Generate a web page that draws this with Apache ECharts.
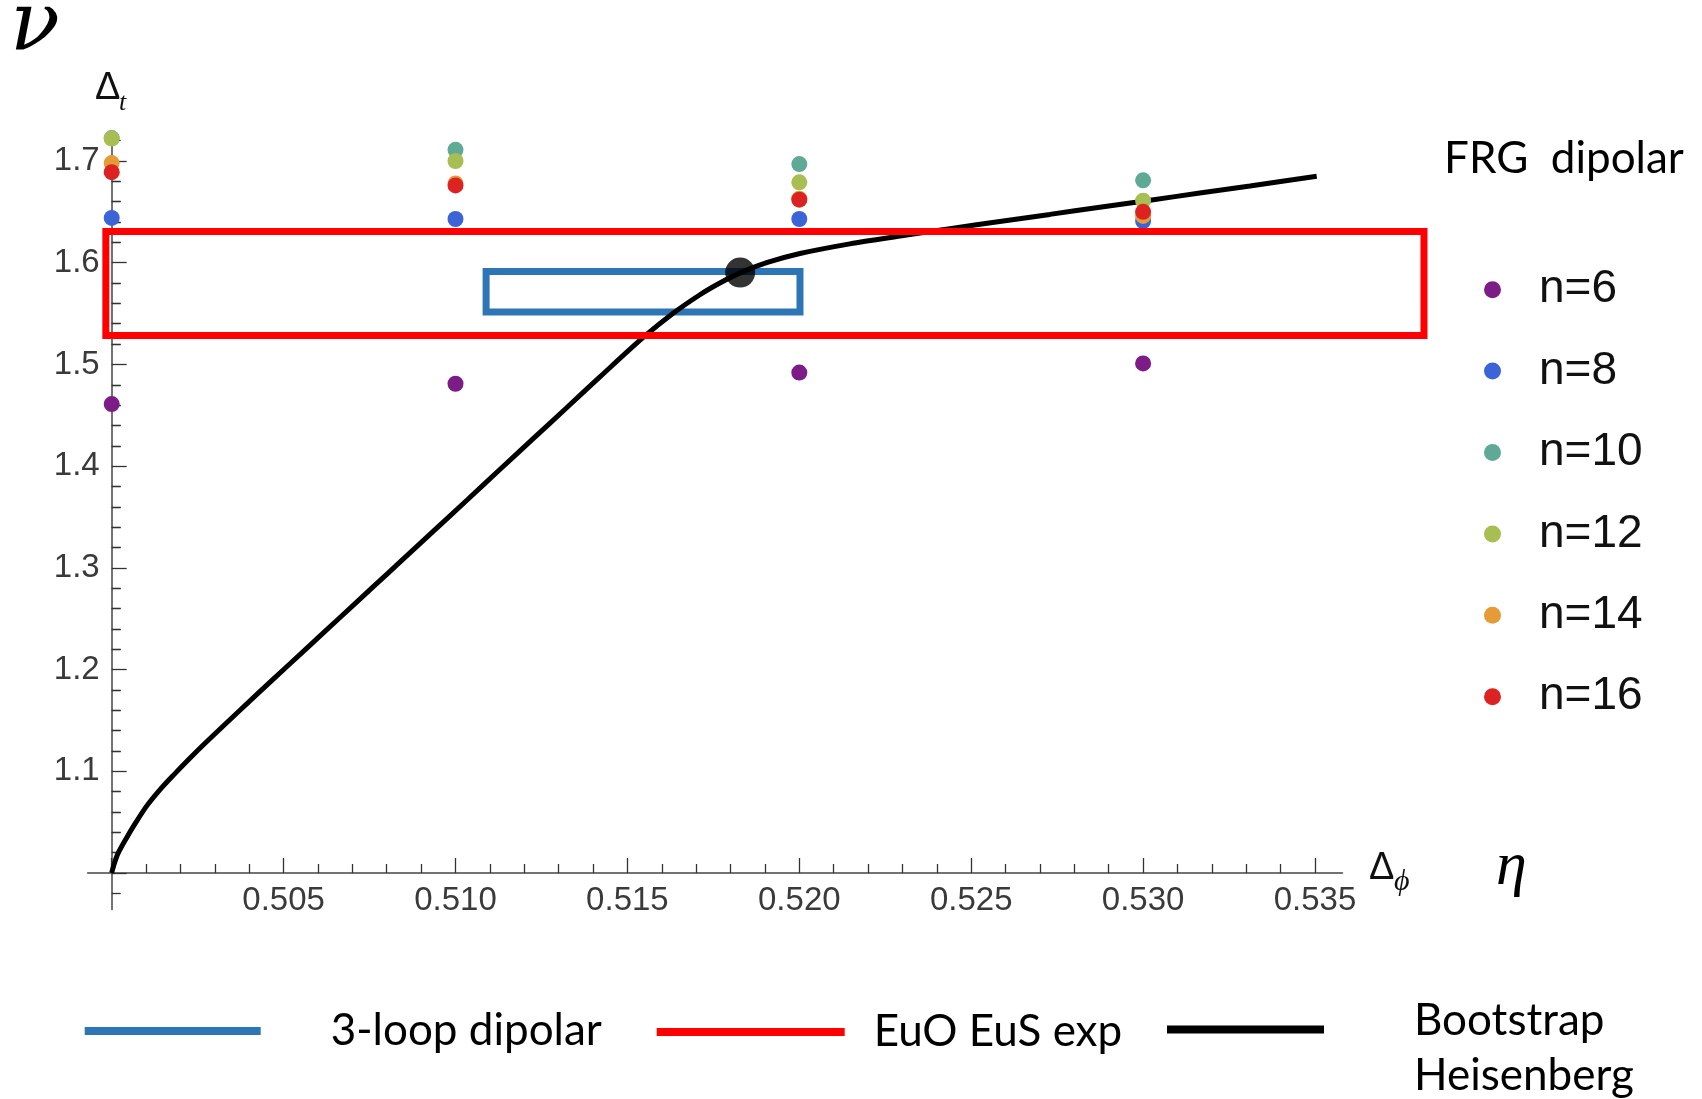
<!DOCTYPE html>
<html><head><meta charset="utf-8">
<script src="https://cdn.jsdelivr.net/npm/echarts@6/dist/echarts.min.js"></script>
<style>html,body{margin:0;padding:0;background:#fff}#c{width:1702px;height:1099px}</style>
</head><body><div id="c"></div>
<script>
// ---- data ----
const frgX = [0.500, 0.510, 0.520, 0.530];
const n6  = [1.461, 1.481, 1.492, 1.501];
const n8  = [1.644, 1.643, 1.643, 1.641];
const n10 = [1.7225, 1.711, 1.697, 1.681];
const n12 = [1.722, 1.700, 1.679, 1.661];
const n14 = [1.698, 1.678, 1.663, 1.646];
const n16 = [1.689, 1.676, 1.662, 1.650];
const frgNames = ['n=6', 'n=8', 'n=10', 'n=12', 'n=14', 'n=16'];

const bsX = [0.5000,0.50007,0.50018,0.50044,0.50068,0.50102,0.50140,0.50179,0.50228,0.50276,0.50373,0.50470,0.50567,0.50664,0.50761,0.50839,0.50935,0.51033,0.51129,0.51226,0.51321,0.51420,0.51546,0.51634,0.51711,0.51769,0.51828,0.51905,0.52002,0.52147,0.52293,0.52438,0.52583,0.52729,0.52874,0.53020,0.53165,0.53311,0.53505];
const bsY = [1.000,1.0085,1.0190,1.0350,1.0485,1.0660,1.0818,1.0960,1.1130,1.1290,1.1600,1.1906,1.2209,1.2512,1.2815,1.3058,1.3358,1.3665,1.3967,1.4270,1.4567,1.4877,1.5265,1.5505,1.5685,1.5800,1.5900,1.6000,1.6090,1.6185,1.6262,1.6335,1.6405,1.6475,1.6545,1.6615,1.6685,1.6755,1.6850];
const bootPoint = [0.51828, 1.5903];

const loopX = [0.51089, 0.52002];
const loopY = [1.5516, 1.5913];
const expX = [0.49983, 0.53817];
const expY = [1.5285, 1.6306];

const xTickMin = 0.500, xTickMax = 0.535, xTickStep = 0.005;
const yTickMin = 1.0, yTickMax = 1.7, yTickStep = 0.1;
const yAxisExt = [0.964, 1.7288];
const xAxisExt = [0.4993, 0.5358];

// ---- styles ----
const frgColors = ['#7b1c87', '#3c64d6', '#5fa997', '#a8bd52', '#e59b37', '#dd2222'];
const frgVals = [n6, n8, n10, n12, n14, n16];

const chart = echarts.init(document.getElementById('c'), null, {renderer: 'canvas'});

const axisColor = '#444';
const labelFont = 'Liberation Sans';

function rectSeries(name, xr, yr, color, z) {
  return {
    type: 'custom', name: name, xAxisIndex: 0, yAxisIndex: 0, clip: false, z: z,
    silent: true, animation: false,
    itemStyle: {color: color},
    encode: {x: [0, 1], y: [2, 3]},
    data: [[xr[0], xr[1], yr[0], yr[1]]],
    renderItem: function (params, api) {
      const p0 = api.coord([api.value(0), api.value(2)]);
      const p1 = api.coord([api.value(1), api.value(3)]);
      return {
        type: 'rect',
        shape: {x: Math.min(p0[0], p1[0]), y: Math.min(p0[1], p1[1]),
                width: Math.abs(p1[0] - p0[0]), height: Math.abs(p1[1] - p0[1])},
        style: {fill: 'none', stroke: color, lineWidth: 7, lineJoin: 'miter'}
      };
    }
  };
}

const series = [];
series.push(rectSeries('3-loop dipolar', loopX, loopY, '#2e75b6', 2));
series.push({
  type: 'line', name: 'Bootstrap Heisenberg', xAxisIndex: 0, yAxisIndex: 0,
  data: bsX.map((x, i) => [x, bsY[i]]), showSymbol: false, symbol: 'none', clip: false, z: 3,
  smooth: 0.3,
  lineStyle: {color: '#000', width: 5}, itemStyle: {color: '#000'}, silent: true, animation: false
});
series.push({
  type: 'scatter', name: 'bootstrap point', xAxisIndex: 0, yAxisIndex: 0,
  data: [bootPoint], symbolSize: 30, clip: false, z: 4,
  itemStyle: {color: '#000'}, silent: true, animation: false
});
frgVals.forEach((vals, k) => {
  series.push({
    type: 'scatter', name: frgNames[k], xAxisIndex: 0, yAxisIndex: 0,
    data: frgX.map((x, i) => [x, vals[i]]).filter(d => d[1] != null),
    symbolSize: 16, clip: false, z: 5,
    itemStyle: {color: frgColors[k], opacity: 1}, silent: true, animation: false
  });
});
series.push(rectSeries('EuO EuS exp', expX, expY, '#ff0000', 6));

const gLeft = 111.7, gRight = 387.0, gTop = 161, gBottom = 226;
const pxPerX = (1702 - gRight - gLeft) / (xTickMax - xTickMin);
const pxPerY = (1099 - gBottom - gTop) / (yTickMax - yTickMin);

function txt(x, y, text, size, family, style, color) {
  return {type: 'text', x: x, y: y, silent: true,
    style: {text: text, fontSize: size, fontFamily: family, fontStyle: style,
            fill: color, verticalAlign: 'middle', align: 'left'}};
}

const option = {
  backgroundColor: '#fff',
  animation: false,
  grid: [
    {left: gLeft, right: gRight, top: gTop, bottom: gBottom, containLabel: false},
    {left: gLeft, right: gRight,
     top: gTop - (yAxisExt[1] - yTickMax) * pxPerY,
     bottom: gBottom - (yTickMin - yAxisExt[0]) * pxPerY, containLabel: false},
    {left: gLeft - (xTickMin - xAxisExt[0]) * pxPerX,
     right: gRight - (xAxisExt[1] - xTickMax) * pxPerX,
     top: gTop, bottom: gBottom, containLabel: false}
  ],
  xAxis: [
    {type: 'value', gridIndex: 0, min: xTickMin, max: xTickMax, interval: xTickStep,
     axisLine: {show: false, onZero: false},
     axisTick: {show: true, inside: true, length: 15, lineStyle: {color: '#333', width: 1.3}},
     minorTick: {show: true, splitNumber: 5, length: 9, lineStyle: {color: '#333', width: 1.3}},
     splitLine: {show: false}, minorSplitLine: {show: false},
     axisLabel: {showMinLabel: false, margin: 11, fontFamily: labelFont, fontSize: 33, color: '#3a3a3a',
                 formatter: v => v.toFixed(3)}},
    {type: 'value', gridIndex: 1, min: xTickMin, max: xTickMax, show: false},
    {type: 'value', gridIndex: 2, min: xAxisExt[0], max: xAxisExt[1],
     axisLine: {show: true, onZero: false, lineStyle: {color: axisColor, width: 1.5}},
     axisTick: {show: false}, minorTick: {show: false}, axisLabel: {show: false},
     splitLine: {show: false}}
  ],
  yAxis: [
    {type: 'value', gridIndex: 0, min: yTickMin, max: yTickMax, interval: yTickStep,
     axisLine: {show: false, onZero: false},
     axisTick: {show: true, inside: true, length: 15, lineStyle: {color: '#333', width: 1.3}},
     minorTick: {show: true, splitNumber: 5, length: 9, lineStyle: {color: '#333', width: 1.3}},
     splitLine: {show: false}, minorSplitLine: {show: false},
     axisLabel: {showMinLabel: false, margin: 12, fontFamily: labelFont, fontSize: 33, color: '#3a3a3a',
                 formatter: v => v.toFixed(1)}},
    {type: 'value', gridIndex: 1, min: yAxisExt[0], max: yAxisExt[1], splitNumber: 8,
     axisLine: {show: true, onZero: false, lineStyle: {color: axisColor, width: 1.5}},
     axisTick: {show: false, inside: true},
     minorTick: {show: true, splitNumber: 5, length: 9, lineStyle: {color: '#333', width: 1.3}},
     axisLabel: {show: false}, splitLine: {show: false}},
    {type: 'value', gridIndex: 2, min: yTickMin, max: yTickMax, show: false}
  ],
  title: {
    text: 'FRG  dipolar', left: 1444, top: 137, padding: 0,
    textStyle: {fontFamily: 'Lato', fontSize: 44, fontWeight: 'normal', color: '#000'}
  },
  legend: [
    {data: frgNames, orient: 'vertical', left: 1484, top: 264.7, padding: 0,
     itemWidth: 17, itemHeight: 17, icon: 'circle', itemGap: 31.4, selectedMode: false,
     textStyle: {fontFamily: labelFont, fontSize: 46, lineHeight: 50, color: '#111', padding: [0, 0, 0, 33]}},
    {data: ['3-loop dipolar'], left: 84.7, top: 1003.5, padding: 0, icon: 'rect',
     itemWidth: 176, itemHeight: 8, selectedMode: false, itemStyle: {borderWidth: 0},
     textStyle: {fontFamily: 'Lato', fontSize: 44, lineHeight: 55, color: '#000', padding: [0, 0, 0, 65]}},
    {data: ['EuO EuS exp'], left: 656.7, top: 1004.5, padding: 0, icon: 'rect',
     itemWidth: 188, itemHeight: 8, selectedMode: false, itemStyle: {borderWidth: 0},
     textStyle: {fontFamily: 'Lato', fontSize: 44, lineHeight: 55, color: '#000', padding: [0, 0, 0, 24]}},
    {data: ['Bootstrap Heisenberg'], left: 1167, top: 969.5, padding: 0, icon: 'rect',
     itemWidth: 157, itemHeight: 8, selectedMode: false, itemStyle: {borderWidth: 0},
     formatter: () => '{s| }\n{a|Bootstrap}\n{a|Heisenberg}',
     textStyle: {fontFamily: 'Lato', fontSize: 44, color: '#000', padding: [0, 0, 0, 85],
       rich: {
         s: {fontFamily: 'Lato', fontSize: 10, lineHeight: 37},
         a: {fontFamily: 'Lato', fontSize: 44, lineHeight: 55, color: '#000'}
       }}}
  ],
  graphic: [
    txt(10, 29, 'ν', 82, 'DejaVu Serif', 'italic', '#000'),
    txt(95, 89, 'Δ', 38, 'Liberation Sans', 'normal', '#111'),
    txt(119, 103, 't', 26, 'Liberation Serif', 'italic', '#111'),
    txt(1369, 869, 'Δ', 38, 'Liberation Sans', 'normal', '#111'),
    txt(1394, 882, 'ϕ', 30, 'Liberation Serif', 'italic', '#111'),
    txt(1496, 868, 'η', 62, 'Liberation Serif', 'italic', '#000')
  ],
  series: series
};
chart.setOption(option);
</script>
</body></html>
